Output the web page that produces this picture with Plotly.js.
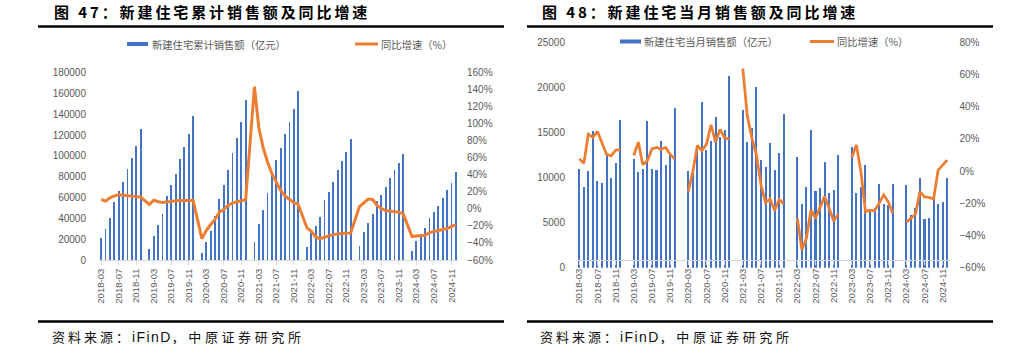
<!DOCTYPE html>
<html>
<head>
<meta charset="utf-8">
<script src="https://cdn.plot.ly/plotly-3.0.1.min.js"></script>
<style>
html,body{margin:0;padding:0;background:#fff;}
#chart{width:1017px;height:351px;}
</style>
</head>
<body>
<div id="chart"></div>
<script>
// ---- data ----
const years = [2018, 2019, 2020, 2021, 2022, 2023, 2024];
const months = [];
years.forEach(function (y) {
  for (let m = 1; m <= 12; m++) {
    if (y === 2018 && m < 3) continue;
    months.push(y + '-' + (m < 10 ? '0' + m : m));
  }
});
const tickLabels = ['2018-03','2018-07','2018-11','2019-03','2019-07','2019-11','2020-03','2020-07','2020-11',
  '2021-03','2021-07','2021-11','2022-03','2022-07','2022-11','2023-03','2023-07','2023-11','2024-03','2024-07','2024-11'];

// 新建住宅累计销售额（亿元）
const cumSales = [
  21100,29800,40400,55700,66000,75000,87800,98000,109500,125600,
  null,10700,22700,33300,44500,61200,72000,82600,97000,108300,121000,138700,
  null,6800,17600,27500,42600,59000,71700,86500,102800,117200,132600,153800,
  null,17300,34900,48400,64000,82600,96200,107300,121000,132600,144800,162100,
  null,12800,26300,32700,41600,57300,65700,74600,86500,94800,103800,116300,
  null,13500,26900,35200,44500,57000,62500,69900,78800,86200,92900,102200,
  null,9000,18000,23000,30400,40400,46100,52200,59600,67000,74300,84300];
// 累计同比增速（%）
const cumYoY = [
  11.1,9.2,13.1,15.4,16.6,16.2,15.4,15.0,14.6,13.9,
  null,5.2,10.3,8.4,7.6,8.0,9.1,9.5,9.9,9.9,9.9,9.9,
  null,-34.9,-25.4,-18.3,-12.4,-3.8,-0.7,4.0,6.8,8.4,9.9,10.7,
  null,143.5,95.6,72.0,55.2,41.4,30.8,21.7,15.1,11.1,7.2,5.3,
  null,-22.3,-26.2,-33.2,-34.9,-32.9,-31.7,-30.2,-29.0,-28.6,-28.6,-28.2,
  null,2.8,7.1,11.5,11.0,4.0,0.5,-1.9,-2.6,-3.0,-3.8,-5.8,
  null,-32.5,-31.8,-31.8,-31.0,-27.8,-26.6,-25.8,-25.0,-23.0,-20.7,-18.3];
// 新建住宅当月销售额（亿元）
const monthSales = [
  11000,8900,10700,15200,9600,9400,12500,9900,11600,16400,
  null,null,12100,10600,11000,16300,11000,10800,14100,11400,12500,17700,
  null,null,10700,10600,13000,18400,13000,14000,16700,14500,15300,21300,
  null,null,17500,13900,15500,20000,12000,11200,13800,10800,12700,17100,
  null,null,12300,7100,9000,15300,8500,8800,11700,8300,8600,12500,
  null,null,13400,8300,9000,11400,6300,6600,9300,7100,7000,9300,
  null,null,9200,5800,6600,10000,5400,5500,7800,7100,7300,9900];
// 当月同比增速（%）
const monthYoY = [
  7.6,4.8,23.0,21.0,24.6,17.3,10.5,9.4,13.0,13.4,
  null,null,9.7,18.0,3.9,6.4,13.8,14.7,13.6,14.7,10.5,7.6,
  null,null,-12.7,-0.3,15.9,12.6,16.7,28.8,18.0,25.9,20.5,20.0,
  null,null,63.6,34.0,20.5,10.1,-8.6,-19.6,-17.5,-24.5,-17.7,-20.2,
  null,null,-29.3,-48.8,-41.8,-24.1,-29.3,-22.7,-15.8,-23.1,-31.0,-26.8,
  null,null,8.5,16.3,-0.3,-25.2,-24.3,-24.7,-20.0,-14.8,-18.9,-26.2,
  null,null,-31.8,-29.3,-26.8,-12.7,-16.0,-16.4,-17.3,0.6,3.5,6.8];

// ---- layout helpers ----
const W = 1017, H = 351;
const px = function (x) { return x / W; };
const py = function (y) { return 1 - y / H; };
const BLUE = '#4472C4', ORANGE = '#ED7D31', GREY = '#595959', AXIS = '#d9d9d9';
const numFont = {family: 'Liberation Sans, Arial, sans-serif', size: 10, color: GREY};
const cjk = 'Noto Sans CJK SC, sans-serif';

const traces = [
  {type: 'bar', x: months, y: cumSales, xaxis: 'x', yaxis: 'y', marker: {color: BLUE}, width: 0.42,
   name: '新建住宅累计销售额（亿元）', showlegend: false},
  {type: 'scatter', mode: 'lines', x: months, y: cumYoY, xaxis: 'x', yaxis: 'y2', connectgaps: true,
   line: {color: ORANGE, width: 3}, name: '同比增速（%）', showlegend: false},
  {type: 'bar', x: months, y: monthSales, xaxis: 'x2', yaxis: 'y3', marker: {color: BLUE}, width: 0.45,
   name: '新建住宅当月销售额（亿元）', showlegend: false},
  {type: 'scatter', mode: 'lines', x: months, y: monthYoY, xaxis: 'x2', yaxis: 'y4', connectgaps: false,
   line: {color: ORANGE, width: 2.75}, name: '同比增速（%）', showlegend: false}
];

function xAxis(domain) {
  return {domain: domain, type: 'category', categoryorder: 'array', categoryarray: months,
    range: [-0.5, months.length - 0.5], tickvals: tickLabels, ticktext: tickLabels, tickangle: -90,
    tickfont: {family: 'Liberation Sans, Arial, sans-serif', size: 9.5, color: GREY},
    showline: true, linecolor: AXIS, linewidth: 1, ticks: 'outside', ticklen: 4, tickcolor: AXIS,
    showgrid: false, zeroline: false, fixedrange: true};
}
function yAxis(opts) {
  return Object.assign({showgrid: false, zeroline: false, showline: false, ticks: '',
    tickfont: numFont, fixedrange: true}, opts);
}

const d1 = [py(260), py(72.7)];
const d2 = [py(267.7), py(42.3)];

const titleFont = {family: cjk, size: 15, color: '#000', weight: 700};
const srcFont = {family: 'Liberation Sans, ' + cjk, size: 13, color: '#111'};
const legFont = {family: cjk, size: 10.3, color: GREY};
const srcText = '<span style="letter-spacing:3px">资料来源：</span><span style="font-size:14px;letter-spacing:1.4px">iFinD</span><span style="letter-spacing:3.6px">，中原证券研究所</span>';

function ann(text, x, y, font) {
  return {text: text, x: px(x), y: py(y), xref: 'paper', yref: 'paper', xanchor: 'left', yanchor: 'middle',
    align: 'left', showarrow: false, font: font};
}

const layout = {
  width: W, height: H, margin: {l: 0, r: 0, t: 0, b: 0},
  paper_bgcolor: '#fff', plot_bgcolor: 'rgba(0,0,0,0)', showlegend: false, bargap: 0,
  xaxis: xAxis([px(99), px(458)]),
  xaxis2: xAxis([px(577), px(949.5)]),
  yaxis: yAxis({domain: d1, anchor: 'x', range: [0, 180000], dtick: 20000, tickformat: 'd', ticklabelstandoff: 12}),
  yaxis2: yAxis({domain: d1, anchor: 'x', overlaying: 'y', side: 'right', range: [-60, 160], dtick: 20,
    ticksuffix: '%', ticklabelstandoff: 8}),
  yaxis3: yAxis({domain: d2, anchor: 'x2', range: [0, 25000], dtick: 5000, tickformat: 'd', ticklabelstandoff: 11}),
  yaxis4: yAxis({domain: d2, anchor: 'x2', overlaying: 'y3', side: 'right', range: [-60, 80], dtick: 20,
    ticksuffix: '%', ticklabelstandoff: 9}),
  annotations: [
    ann('<span style="letter-spacing:2.9px">图 47：新建住宅累计销售额及同比增速</span>', 52, 12, titleFont),
    ann('<span style="letter-spacing:2.9px">图 48：新建住宅当月销售额及同比增速</span>', 540, 12, titleFont),
    ann(srcText, 50, 336.5, srcFont),
    ann(srcText, 538, 336.5, srcFont),
    ann('新建住宅累计销售额（亿元）', 150, 44, legFont),
    ann('同比增速（%）', 379, 44, legFont),
    ann('新建住宅当月销售额（亿元）', 642, 41.5, legFont),
    ann('同比增速（%）', 835, 41.5, legFont)
  ],
  shapes: [
    {type: 'line', xref: 'paper', yref: 'paper', x0: px(38), x1: px(504), y0: py(26.5), y1: py(26.5), line: {color: '#000', width: 2.5}},
    {type: 'line', xref: 'paper', yref: 'paper', x0: px(527), x1: px(993), y0: py(26.5), y1: py(26.5), line: {color: '#000', width: 2.5}},
    {type: 'line', xref: 'paper', yref: 'paper', x0: px(38), x1: px(504), y0: py(321.5), y1: py(321.5), line: {color: '#000', width: 2.5}},
    {type: 'line', xref: 'paper', yref: 'paper', x0: px(527), x1: px(993), y0: py(321.5), y1: py(321.5), line: {color: '#000', width: 2.5}},
    {type: 'rect', xref: 'paper', yref: 'paper', x0: px(127), x1: px(148), y0: py(46), y1: py(42), fillcolor: BLUE, line: {width: 0}},
    {type: 'line', xref: 'paper', yref: 'paper', x0: px(355), x1: px(378), y0: py(44), y1: py(44), line: {color: ORANGE, width: 3}},
    {type: 'rect', xref: 'paper', yref: 'paper', x0: px(620), x1: px(641), y0: py(43.5), y1: py(39.5), fillcolor: BLUE, line: {width: 0}},
    {type: 'line', xref: 'paper', yref: 'paper', x0: px(810), x1: px(834), y0: py(41.5), y1: py(41.5), line: {color: ORANGE, width: 3}}
  ]
};

Plotly.newPlot('chart', traces, layout, {staticPlot: true, displayModeBar: false});
</script>
</body>
</html>
